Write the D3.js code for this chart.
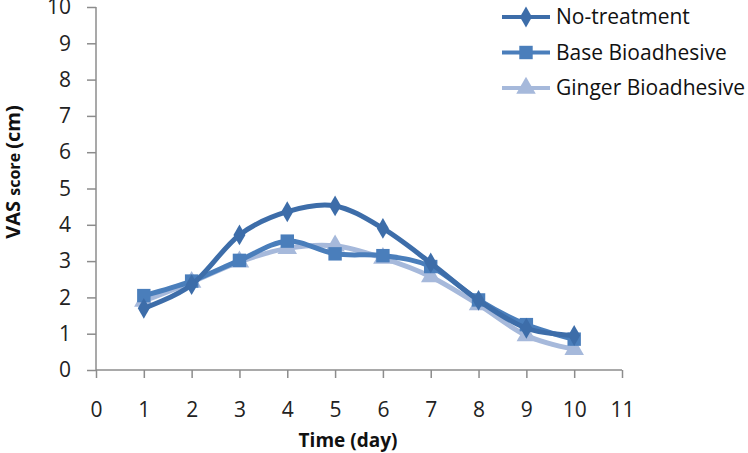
<!DOCTYPE html>
<html><head><meta charset="utf-8">
<script src="https://cdn.jsdelivr.net/npm/d3@7"></script>
<style>body{margin:0;background:#fff}svg{display:block}text{font-family:"Open Sans",sans-serif}</style>
</head><body><svg id="c" width="748" height="453"></svg>
<script>
const days = [1,2,3,4,5,6,7,8,9,10];
const noTreatment = [1.7,2.35,3.72,4.36,4.52,3.9,2.95,1.92,1.15,0.95];
const baseBio = [2.05,2.45,3.02,3.55,3.2,3.15,2.85,1.93,1.25,0.85];
const gingerBio = [1.9,2.42,2.98,3.35,3.42,3.08,2.57,1.8,0.95,0.57];
const seriesNames = ["No-treatment","Base Bioadhesive","Ginger Bioadhesive"];
const xTicks = [0,1,2,3,4,5,6,7,8,9,10,11];
const yTicks = [0,1,2,3,4,5,6,7,8,9,10];

const colors = ["#3D6DA9","#4A7EBB","#A6B9DB"];
const symbols = [d3.symbolDiamond, d3.symbolSquare, d3.symbolTriangle];
const symSizes = [125, 180, 165];
const seriesVals = [noTreatment, baseBio, gingerBio];

const svg = d3.select("#c");
const x = d3.scaleLinear().domain([0,11]).range([96,622]);
const y = d3.scaleLinear().domain([0,10]).range([370,7]);

// axes
const xa = svg.append("g").attr("transform","translate(0,370)")
  .call(d3.axisBottom(x).tickValues(xTicks).tickSize(8).tickPadding(25).tickFormat(d3.format("d")));
const ya = svg.append("g").attr("transform","translate(96,0)")
  .call(d3.axisLeft(y).tickValues(yTicks).tickSize(9).tickPadding(16).tickFormat(d3.format("d")));
[xa,ya].forEach(a=>{
  a.select(".domain").attr("stroke","#8c8c8c").attr("stroke-width",1.5);
  a.selectAll(".tick line").attr("stroke","#8c8c8c").attr("stroke-width",1.5);
  a.selectAll(".tick text").attr("fill","#222").style("font-size","21px").style("font-family","'Open Sans',sans-serif");
});
xa.selectAll(".tick text").attr("dy","0.35em").attr("y",40);
xa.select(".domain").attr("d","M96,0H622");
ya.select(".domain").attr("d","M0,7V370");

svg.append("text").attr("x",348).attr("y",447).attr("text-anchor","middle")
  .style("font-size","19px").style("font-weight","bold").attr("fill","#111").text("Time (day)");
const yt = svg.append("text").attr("transform","translate(14,172) rotate(-90)").attr("text-anchor","middle")
  .attr("dy","0.35em").style("font-weight","bold").attr("fill","#111");
yt.append("tspan").style("font-size","20px").text("VAS ");
yt.append("tspan").style("font-size","16px").text("score ");
yt.append("tspan").style("font-size","20px").text("(cm)");

const line = d3.line().x((d,i)=>x(days[i])).y(d=>y(d)).curve(d3.curveCatmullRom.alpha(0));

[2,1,0].forEach(k=>{
  const g = svg.append("g");
  g.append("path").datum(seriesVals[k]).attr("d",line).attr("fill","none")
    .attr("stroke",colors[k]).attr("stroke-width",5);
  g.selectAll("path.m").data(seriesVals[k]).join("path").attr("class","m")
    .attr("transform",(d,i)=>`translate(${x(days[i])},${y(d)})`)
    .attr("d",d3.symbol().type(symbols[k]).size(symSizes[k])).attr("fill",colors[k]);
});

// legend
const lg = svg.append("g");
seriesNames.forEach((n,k)=>{
  const yy = 17 + k*35.5;
  lg.append("line").attr("x1",502).attr("x2",550).attr("y1",yy).attr("y2",yy)
    .attr("stroke",colors[k]).attr("stroke-width",4);
  lg.append("path").attr("transform",`translate(526,${yy})`)
    .attr("d",d3.symbol().type(symbols[k]).size(symSizes[k])).attr("fill",colors[k]);
  lg.append("text").attr("x",556).attr("y",yy).attr("dy","0.35em").style("font-size","21px").attr("fill","#111").text(n);
});
</script></body></html>
